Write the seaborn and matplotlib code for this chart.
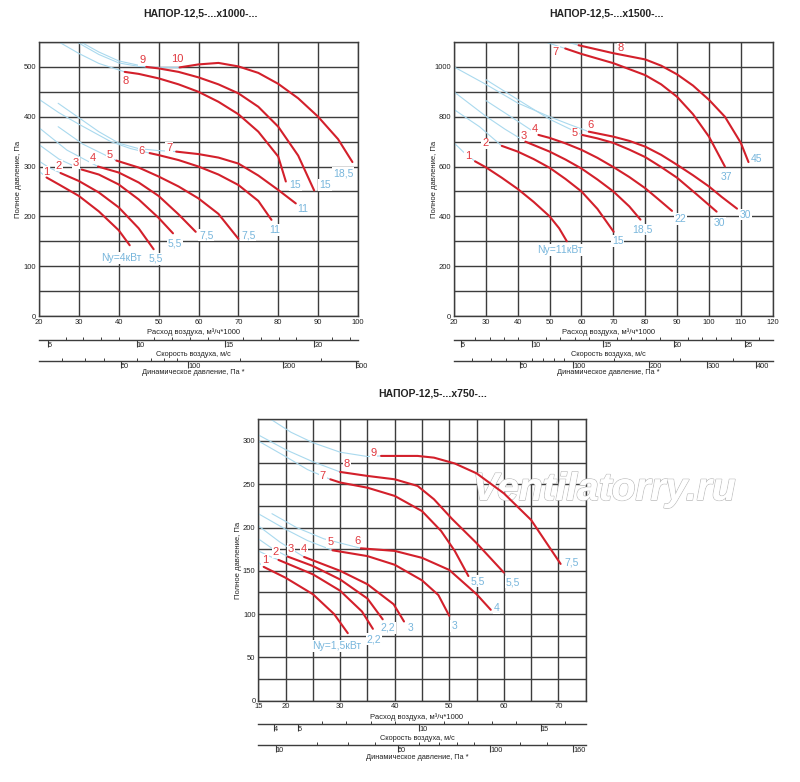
import numpy as np
import pandas as pd
import matplotlib
matplotlib.use("Agg")
import matplotlib.pyplot as plt
import matplotlib.patheffects as pe
import seaborn as sns

# -----------------------------
# Panel 1 : x1000
# -----------------------------
p1_title = "НАПОР-12,5-...x1000-..."
p1_red = [
    [(21.9, 278), (25, 264), (30, 241), (35, 210), (40, 172), (42.75, 142)],
    [(25.4, 287), (30, 271), (35, 248), (40, 218), (45, 176), (48.75, 134)],
    [(30.7, 294), (35, 284), (40, 264), (45, 234), (50, 197), (53.6, 166)],
    [(34.8, 300), (40, 288), (45, 268), (50, 241), (55, 204), (59.3, 169)],
    [(39.4, 312), (45, 298), (50, 280), (55, 260), (60, 236), (65, 205), (70, 155)],
    [(47.75, 327), (50, 323), (55, 313), (60, 300), (65, 284), (70, 263), (75, 231), (78.3, 193)],
    [(54.4, 330), (60, 325), (65, 318), (70, 306), (75, 282), (80, 253), (84.4, 226)],
    [(41.5, 490), (45, 486), (50, 477), (55, 465), (60, 450), (65, 430), (70, 405), (75, 370), (80, 320), (81.9, 270)],
    [(46.9, 500), (50, 497), (55, 490), (60, 479), (65, 465), (70, 447), (75, 420), (80, 380), (85, 322), (89, 252)],
    [(55.25, 499), (60, 505), (65, 508), (70, 501), (75, 488), (80, 466), (85, 437), (90, 400), (95, 355), (98.6, 309)],
]
p1_blue = [
    [(20, 291), (21.9, 278)],
    [(20, 311), (22.5, 298), (25.4, 287)],
    [(20, 344), (25, 315), (30.7, 294)],
    [(20, 378), (27, 333), (34.8, 300)],
    [(24.8, 380), (31, 345), (39.4, 312)],
    [(20, 435), (25, 408), (30, 385), (38, 350), (43, 336), (47.75, 327)],
    [(24.8, 427), (30, 398), (35, 370), (40, 347), (45, 336), (50, 332), (54.4, 330)],
    [(25, 550), (30, 527), (35, 507), (41.5, 490)],
    [(30.5, 550), (35, 530), (40, 512), (46.9, 500)],
    [(29.5, 550), (35, 525), (40, 508), (45, 501), (50, 499), (55.25, 499)],
]
p1_num_text = ["1", "2", "3", "4", "5", "6", "7", "8", "9", "10"]
p1_num_xy = [(21.9, 290), (25, 302), (29.2, 307), (33.6, 317), (37.75, 323), (45.7, 332),
             (52.6, 337), (41.7, 472), (45.9, 514), (54.7, 516)]
p1_kw_text = ["Nу=4кВт", "5,5", "5,5", "7,5", "7,5", "11", "11", "15", "15", "18,5"]
p1_kw_xy = [(40.75, 116), (49.25, 115), (54, 145), (62, 162), (72.5, 162), (79.2, 173),
            (86.25, 214), (84.25, 263), (91.75, 263), (96.25, 287)]
p1_xticks = [20, 30, 40, 50, 60, 70, 80, 90, 100]
p1_xlabels = ["20", "30", "40", "50", "60", "70", "80", "90", "100"]
p1_yticks = [0, 50, 100, 150, 200, 250, 300, 350, 400, 450, 500, 550]
p1_ylabels = ["0", "", "100", "", "200", "", "300", "", "400", "", "500", ""]
p1_vel_major = [5, 10, 15, 20]
p1_vel_minor = [6, 7, 8, 9, 11, 12, 13, 14, 16, 17, 18, 19, 21, 22]
p1_dyn_major = [50, 100, 200, 300]
p1_dyn_minor = [20, 30, 40, 60, 70, 80, 90, 150, 250]

# -----------------------------
# Panel 2 : x1500
# -----------------------------
p2_title = "НАПОР-12,5-...x1500-..."
p2_red = [
    [(26.6, 621), (30, 597), (35, 555), (40, 510), (45, 458), (50, 400), (53, 352), (55.4, 300)],
    [(35, 683), (40, 660), (45, 630), (50, 595), (55, 550), (60, 500), (65, 430), (70.1, 338)],
    [(42.4, 700), (50, 660), (55, 628), (60, 592), (65, 548), (70, 500), (75, 440), (78.5, 387)],
    [(46.5, 727), (50, 715), (55, 693), (60, 667), (65, 635), (70, 598), (75, 558), (80, 513), (84, 470), (88.4, 422)],
    [(60.2, 727), (65, 713), (70, 695), (75, 668), (80, 638), (85, 598), (90, 555), (96, 490), (102.4, 419)],
    [(62.3, 740), (70, 720), (75, 703), (80, 680), (85, 647), (90, 607), (95, 565), (100, 520), (104, 478), (108.8, 431)],
    [(54.9, 1074), (60, 1052), (70, 1015), (80, 967), (85, 930), (90, 880), (95, 810), (100, 720), (105, 600)],
    [(59.1, 1087), (70, 1055), (80, 1030), (85, 1005), (90, 970), (95, 925), (100, 868), (105, 800), (110, 695), (112.4, 618)],
]
p2_blue = [
    [(20, 695), (23, 658), (26.6, 621)],
    [(20, 829), (28, 760), (35, 683)],
    [(20, 900), (30, 802), (36, 750), (42.4, 700)],
    [(30, 865), (40, 782), (46.5, 727)],
    [(30, 949), (40, 869), (50, 790), (60.2, 727)],
    [(20, 1000), (30, 930), (40, 855), (50, 800), (56, 770), (62.3, 740)],
    [(48.6, 1100), (54.9, 1074)],
    [(55.5, 1100), (59.1, 1087)],
]
p2_num_text = ["1", "2", "3", "4", "5", "6", "7", "8"]
p2_num_xy = [(24.5, 641), (29.8, 693), (41.8, 723), (45.5, 751), (58, 733), (62.8, 767),
             (51.9, 1060), (72.3, 1074)]
p2_kw_text = ["Nу=11кВт", "15", "18,5", "22", "30", "30", "37", "45"]
p2_kw_xy = [(53.3, 265), (71.4, 300), (79.2, 347), (91, 389), (103.4, 373), (111.5, 407),
            (105.5, 560), (114.9, 629)]
p2_xticks = [20, 30, 40, 50, 60, 70, 80, 90, 100, 110, 120]
p2_xlabels = ["20", "30", "40", "50", "60", "70", "80", "90", "100", "110", "120"]
p2_yticks = [0, 100, 200, 300, 400, 500, 600, 700, 800, 900, 1000, 1100]
p2_ylabels = ["0", "", "200", "", "400", "", "600", "", "800", "", "1000", ""]
p2_vel_major = [5, 10, 15, 20, 25]
p2_vel_minor = [6, 7, 8, 9, 11, 12, 13, 14, 16, 17, 18, 19, 21, 22, 23, 24, 26, 27]
p2_dyn_major = [50, 100, 200, 300, 400]
p2_dyn_minor = [20, 30, 40, 60, 70, 80, 90, 150, 250, 350]

# -----------------------------
# Panel 3 : x750
# -----------------------------
p3_title = "НАПОР-12,5-...x750-..."
p3_red = [
    [(16, 154.5), (20, 142), (25, 123), (28.9, 100), (31.4, 78)],
    [(18.7, 162.6), (25, 146), (30, 127), (34, 103), (36, 83)],
    [(20.4, 166.4), (25, 155.6), (30, 140), (35, 118), (37.8, 94)],
    [(23.4, 166), (30, 150), (35, 134.5), (39.8, 111.4), (41.7, 91.5)],
    [(28.6, 173.7), (35, 167), (40, 157), (45, 139), (48, 122), (50, 98)],
    [(33.8, 176), (40, 173), (45, 165), (50, 151), (55, 123), (57.6, 105)],
    [(28.2, 255.7), (30, 252), (35, 246), (40, 236.5), (45, 219), (48.5, 196), (51, 173), (53.5, 144)],
    [(30, 264.2), (35, 259.6), (40, 255.7), (44.2, 248), (47.2, 232.6), (50.5, 210), (55, 182), (60, 148)],
    [(37.5, 282.7), (44.2, 282.7), (47.2, 280.7), (51, 274), (55, 262.6), (60, 239.5), (65, 208.7), (70.4, 158)],
]
p3_blue = [
    [(15, 160), (16, 154.5)],
    [(15, 173), (17, 167), (18.7, 162.6)],
    [(15, 187), (17.5, 176), (20.4, 166.4)],
    [(15, 202), (19, 183), (23.4, 166)],
    [(15, 216), (20, 198), (24, 185), (28.6, 173.7)],
    [(17.5, 216), (22, 200), (27, 187), (33.8, 176)],
    [(15, 300), (20, 282), (24, 267), (28.2, 255.7)],
    [(15, 307), (20, 290), (25, 276), (30, 264.2)],
    [(17.3, 325), (21, 310), (25, 298), (30, 287), (35, 282), (37.5, 282.7)],
]
p3_num_text = ["1", "2", "3", "4", "5", "6", "7", "8", "9"]
p3_num_xy = [(16.2, 162.6), (18.2, 171.8), (21, 175.7), (23.4, 175.7), (28.2, 183), (33.1, 185),
             (26.8, 260), (31.2, 273), (36.1, 285.7)]
p3_kw_text = ["Nу=1,5кВт", "2,2", "2,2", "3", "3", "4", "5,5", "5,5", "7,5"]
p3_kw_xy = [(29.4, 63), (36.2, 71), (38.8, 84), (42.9, 84), (50.9, 86), (58.7, 107),
            (55.2, 138), (61.6, 137), (72.5, 160)]
p3_xticks = [15, 20, 25, 30, 35, 40, 45, 50, 55, 60, 65, 70, 75]
p3_xlabels = ["15", "20", "", "30", "", "40", "", "50", "", "60", "", "70", ""]
p3_yticks = [0, 25, 50, 75, 100, 125, 150, 175, 200, 225, 250, 275, 300, 325]
p3_ylabels = ["0", "", "50", "", "100", "", "150", "", "200", "", "250", "", "300", ""]
p3_vel_major = [4, 5, 10, 15]
p3_vel_minor = [6, 7, 8, 9, 11, 12, 13, 14, 16]
p3_dyn_major = [10, 50, 100, 160]
p3_dyn_minor = [20, 30, 40, 60, 70, 80, 90, 120, 140]

# -----------------------------
# Style
# -----------------------------
sns.set_theme(style="white")
plt.rcParams['font.family'] = ['Liberation Sans', 'DejaVu Sans']
NARROW = ['Liberation Sans Narrow', 'Liberation Sans', 'DejaVu Sans']
RED = "#d3202b"
RED_TXT = "#e0383e"
BLUE = "#a9d9ee"
BLUE_TXT = "#78b6dc"
GRID = "#3c3c3c"
TXT = "#222222"
W, H = 800, 782
K_FLOW = 4.45   # thousand m3/h per 1 m/s (12,5 casing)


def vel(q):
    return np.asarray(q, dtype=float) / K_FLOW


def vel_inv(v):
    return np.asarray(v, dtype=float) * K_FLOW


def dyn(q):
    return 0.6 * (np.clip(np.asarray(q, dtype=float), 0, None) / K_FLOW) ** 2


def dyn_inv(p):
    return K_FLOW * np.sqrt(np.clip(np.asarray(p, dtype=float), 0, None) / 0.6)


def to_df(curves):
    rows = []
    for i, pts in enumerate(curves):
        for q, p in pts:
            rows.append({"curve": i, "flow": q, "pres": p})
    return pd.DataFrame(rows)


def ftext(px, py, s, **kw):
    return fig.text(px / W, 1 - py / H, s, **kw)


def secondary(ax, loc, funcs, major, minor, title, title_y, cx):
    sec = ax.secondary_xaxis(loc, functions=funcs)
    sec.set_xticks(major, labels=[str(v) for v in major])
    sec.set_xticks(minor, minor=True)
    sec.tick_params(which='major', direction='out', length=5, width=0.8, colors=GRID,
                    labelsize=5.3, pad=-3.4, labelcolor=TXT)
    sec.tick_params(which='minor', direction='in', length=2.5, width=0.7, colors=GRID)
    for lbl in sec.get_xticklabels():
        lbl.set_ha('left')
    sec.spines['bottom'].set_color(GRID)
    sec.spines['bottom'].set_linewidth(1.0)
    ftext(cx, title_y, title, ha='center', va='center', fontsize=5.3, color=TXT)


def panel(rect_px, title, title_xy, red, blue, num_text, num_xy, kw_text, kw_xy,
          xticks, xlabels, yticks, ylabels, vel_major, vel_minor, dyn_major, dyn_minor):
    l, t, r, b = rect_px
    ax = fig.add_axes([l / W, 1 - b / H, (r - l) / W, (b - t) / H])
    ax.set_axisbelow(True)
    sns.lineplot(data=to_df(blue), x="flow", y="pres", units="curve", estimator=None,
                 sort=False, color=BLUE, lw=0.8, ax=ax, zorder=2)
    sns.lineplot(data=to_df(red), x="flow", y="pres", units="curve", estimator=None,
                 sort=False, color=RED, lw=1.5, ax=ax, zorder=4)
    for s, (x, y) in zip(num_text, num_xy):
        ax.text(x, y, s, color=RED_TXT, fontsize=8, family=NARROW, ha='center', va='center',
                zorder=3, bbox=dict(fc='white', ec='none', pad=0.6))
    for s, (x, y) in zip(kw_text, kw_xy):
        ax.text(x, y, s, color=BLUE_TXT, fontsize=7.5, family=NARROW, ha='center', va='center',
                zorder=3, bbox=dict(fc='white', ec='none', pad=0.6))
    ax.set_xlim(xticks[0], xticks[-1])
    ax.set_ylim(yticks[0], yticks[-1])
    ax.set_xticks(xticks, labels=xlabels)
    ax.set_yticks(yticks, labels=ylabels)
    ax.tick_params(length=0, labelsize=5.5, pad=2, labelcolor=TXT)
    ax.grid(True, color=GRID, lw=1.0)
    for sp in ax.spines.values():
        sp.set_color(GRID)
        sp.set_linewidth(1.0)
    ax.set_xlabel("")
    ax.set_ylabel("")
    h = b - t
    cx = (l + r) / 2 - 5
    ftext(cx, b + 16, "Расход воздуха, м³/ч*1000", ha='center', va='center', fontsize=5.5, color=TXT)
    ftext(l - 20, (t + b) / 2, "Полное давление, Па", ha='center', va='center', rotation=90,
          fontsize=5.5, color=TXT)
    ftext(title_xy[0], title_xy[1], title, ha='center', va='center', fontsize=7.5,
          weight='bold', color=TXT)
    secondary(ax, -23.5 / h, (vel, vel_inv), vel_major, vel_minor,
              "Скорость воздуха, м/с", b + 38, cx)
    secondary(ax, -44.5 / h, (dyn, dyn_inv), dyn_major, dyn_minor,
              "Динамическое давление, Па *", b + 57, cx)
    return ax


fig = plt.figure(figsize=(8, 7.82), dpi=100)

panel((39, 42, 358, 316), p1_title, (200, 14), p1_red, p1_blue, p1_num_text, p1_num_xy,
      p1_kw_text, p1_kw_xy, p1_xticks, p1_xlabels, p1_yticks, p1_ylabels,
      p1_vel_major, p1_vel_minor, p1_dyn_major, p1_dyn_minor)
panel((454, 42, 772.7, 316), p2_title, (606, 14), p2_red, p2_blue, p2_num_text, p2_num_xy,
      p2_kw_text, p2_kw_xy, p2_xticks, p2_xlabels, p2_yticks, p2_ylabels,
      p2_vel_major, p2_vel_minor, p2_dyn_major, p2_dyn_minor)
ax3 = panel((258.3, 419.3, 585.7, 700.7), p3_title, (433, 393), p3_red, p3_blue, p3_num_text, p3_num_xy,
            p3_kw_text, p3_kw_xy, p3_xticks, p3_xlabels, p3_yticks, p3_ylabels,
            p3_vel_major, p3_vel_minor, p3_dyn_major, p3_dyn_minor)

# watermark: drawn inside the lower axes so the red curves stay on top of it
wm = ax3.text(604 / W, 1 - 490 / H, "Ventilatorry.ru", transform=fig.transFigure,
              ha='center', va='center', fontsize=28, style='italic', weight='bold',
              color='white', zorder=3.5, clip_on=False)
wm.set_path_effects([pe.withStroke(linewidth=1.1, foreground='#bdbdbd'), pe.Normal()])

fig.savefig("out.png", dpi=100)
